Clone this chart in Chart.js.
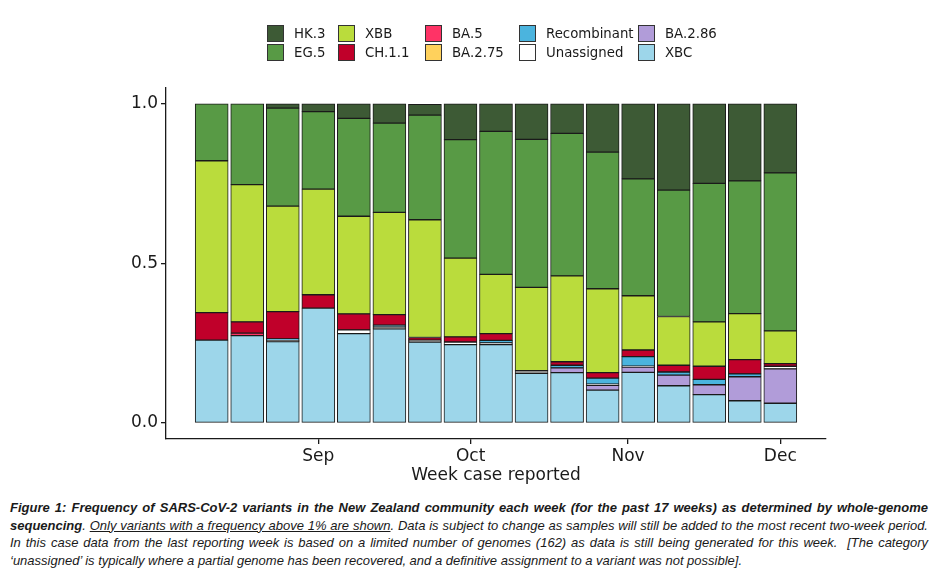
<!DOCTYPE html>
<html>
<head>
<meta charset="utf-8">
<script src="https://cdn.jsdelivr.net/npm/chart.js@4.4.0/dist/chart.umd.min.js"></script>
<style>
  body { margin: 0; background: #fff; }
  #wrap { position: relative; width: 940px; height: 579px; overflow: hidden; }
  #chart { position: absolute; left: 0; top: 0; }
  #legend {
    position: absolute; left: 267px; top: 24px;
    display: grid; grid-template-columns: 71px 87px 94px 119px auto;
    grid-template-rows: 19px 19px; grid-auto-flow: column;
    font: 13.3px "DejaVu Sans"; color: #1a1a1a;
  }
  .item { display: flex; align-items: center; white-space: nowrap; }
  .sw { width: 17px; height: 17px; box-sizing: border-box; border: 1px solid #333; margin-right: 10px; flex: none; }
  #caption {
    position: absolute; left: 10px; top: 499px; width: 918px;
    font-family: "Liberation Sans Narrow", "Liberation Sans", sans-serif;
    font-style: italic; font-size: 13px; line-height: 17.5px; color: #1a1a1a;
  }
  #caption div { text-align: justify; text-align-last: justify; }
  #caption div.last { text-align-last: left; }
</style>
</head>
<body>
<div id="wrap">
  <canvas id="chart" width="940" height="490"></canvas>
  <div id="legend"></div>
  <div id="caption">
    <div><b>Figure 1: Frequency of SARS-CoV-2 variants in the New Zealand community each week (for the past 17 weeks) as determined by whole-genome</b></div>
    <div><b>sequencing</b>. <u>Only variants with a frequency above 1% are shown</u>. Data is subject to change as samples will still be added to the most recent two-week period.</div>
    <div>In this case data from the last reporting week is based on a limited number of genomes (162) as data is still being generated for this week. &nbsp;[The category</div>
    <div class="last">‘unassigned’ is typically where a partial genome has been recovered, and a definitive assignment to a variant was not possible].</div>
  </div>
</div>
<script>
// weeks (case reported) and month ticks
const weeks = ['2023-08-11', '2023-08-18', '2023-08-25', '2023-09-01', '2023-09-08', '2023-09-15',
  '2023-09-22', '2023-09-29', '2023-10-06', '2023-10-13', '2023-10-20', '2023-10-27',
  '2023-11-03', '2023-11-10', '2023-11-17', '2023-11-24', '2023-12-01'];
const monthTicks = ['2023-09-01', '2023-10-01', '2023-11-01', '2023-12-01'];
const monthLabels = ['Sep', 'Oct', 'Nov', 'Dec'];
const yTicks = [0, 0.5, 1];

// frequencies per variant, bottom of stack first
const xbc = [0.260, 0.274, 0.255, 0.360, 0.280, 0.295, 0.254, 0.246, 0.246, 0.156, 0.158, 0.103, 0.159, 0.117, 0.089, 0.070, 0.062];
const ba286 = [0, 0, 0, 0, 0, 0, 0, 0, 0, 0, 0.015, 0.015, 0.016, 0.033, 0.031, 0.075, 0.108];
const unassigned = [0, 0, 0.004, 0, 0.012, 0.006, 0.006, 0.008, 0.005, 0.008, 0, 0.004, 0.003, 0, 0, 0, 0.008];
const recombinant = [0, 0, 0.005, 0, 0, 0.006, 0, 0, 0.008, 0, 0.008, 0.019, 0.030, 0.010, 0.017, 0.009, 0];
const ba275 = [0, 0, 0, 0, 0, 0, 0, 0, 0, 0, 0, 0, 0, 0, 0, 0, 0];
const ba5 = [0, 0.008, 0, 0, 0, 0, 0, 0, 0, 0, 0, 0, 0, 0, 0, 0, 0];
const ch11 = [0.086, 0.035, 0.085, 0.042, 0.050, 0.033, 0.008, 0.016, 0.021, 0, 0.011, 0.017, 0.021, 0.021, 0.041, 0.045, 0.008];
const xbb = [0.476, 0.430, 0.331, 0.331, 0.306, 0.320, 0.369, 0.247, 0.186, 0.261, 0.269, 0.263, 0.170, 0.153, 0.139, 0.144, 0.103];
const eg5 = [0.178, 0.253, 0.307, 0.243, 0.307, 0.280, 0.328, 0.371, 0.448, 0.464, 0.447, 0.428, 0.366, 0.396, 0.434, 0.416, 0.495];
const hk3 = [0, 0, 0.013, 0.024, 0.045, 0.060, 0.034, 0.112, 0.086, 0.111, 0.092, 0.151, 0.235, 0.270, 0.249, 0.241, 0.216];

const series = [
  ['XBC', xbc, '#9dd6ea'],
  ['BA.2.86', ba286, '#b19cd9'],
  ['Unassigned', unassigned, '#ffffff'],
  ['Recombinant', recombinant, '#4bb4de'],
  ['BA.2.75', ba275, '#ffd15c'],
  ['BA.5', ba5, '#ff3366'],
  ['CH.1.1', ch11, '#c0002a'],
  ['XBB', xbb, '#badc3c'],
  ['EG.5', eg5, '#589a45'],
  ['HK.3', hk3, '#3d5a35']
];

const t0 = Date.parse(weeks[0]);
const dayOf = (d) => (Date.parse(d) - t0) / 86400000;
const font = { family: 'DejaVu Sans', size: 17 };

const datasets = series.map(([name, vals, color]) => ({
  label: name,
  data: weeks.map((w, i) => ({ x: dayOf(w), y: vals[i] })),
  backgroundColor: color,
  borderColor: '#1a1a1a',
  borderWidth: 1,
  borderSkipped: false,
  barThickness: 33
}));

new Chart(document.getElementById('chart'), {
  type: 'bar',
  data: { datasets },
  options: {
    responsive: false,
    animation: false,
    devicePixelRatio: 1,
    layout: { padding: { left: 100, top: 88, right: 114, bottom: 0 } },
    plugins: { legend: { display: false }, tooltip: { enabled: false } },
    scales: {
      x: {
        type: 'linear',
        stacked: true,
        offset: false,
        min: -9,
        max: 121,
        afterBuildTicks: (scale) => { scale.ticks = monthTicks.map((d) => ({ value: dayOf(d) })); },
        afterFit: (scale) => { scale.height = 51; },
        grid: { offset: false, drawOnChartArea: false, tickLength: 5, color: '#1a1a1a', lineWidth: 1.3 },
        border: { color: '#1a1a1a', width: 1.3 },
        ticks: {
          autoSkip: false, maxRotation: 0, padding: 2, color: '#1a1a1a', font,
          callback: (v) => monthLabels[monthTicks.findIndex((d) => dayOf(d) === v)]
        },
        title: { display: true, text: 'Week case reported', color: '#1a1a1a', font, padding: { top: 0, bottom: 4 } }
      },
      y: {
        stacked: true,
        min: -0.05,
        max: 1.05,
        afterBuildTicks: (scale) => { scale.ticks = yTicks.map((v) => ({ value: v })); },
        afterFit: (scale) => { scale.width = 66; },
        grid: { drawOnChartArea: false, tickLength: 5, color: '#1a1a1a', lineWidth: 1.3 },
        border: { color: '#1a1a1a', width: 1.3 },
        ticks: { padding: 3, color: '#1a1a1a', font, callback: (v) => v.toFixed(1) }
      }
    }
  }
});

// legend, column-wise like the original (top of stack first)
const legend = document.getElementById('legend');
series.slice().reverse().forEach(([name, , color]) => {
  const item = document.createElement('div');
  item.className = 'item';
  item.innerHTML = `<span class="sw" style="background:${color}"></span>${name}`;
  legend.appendChild(item);
});
</script>
</body>
</html>
